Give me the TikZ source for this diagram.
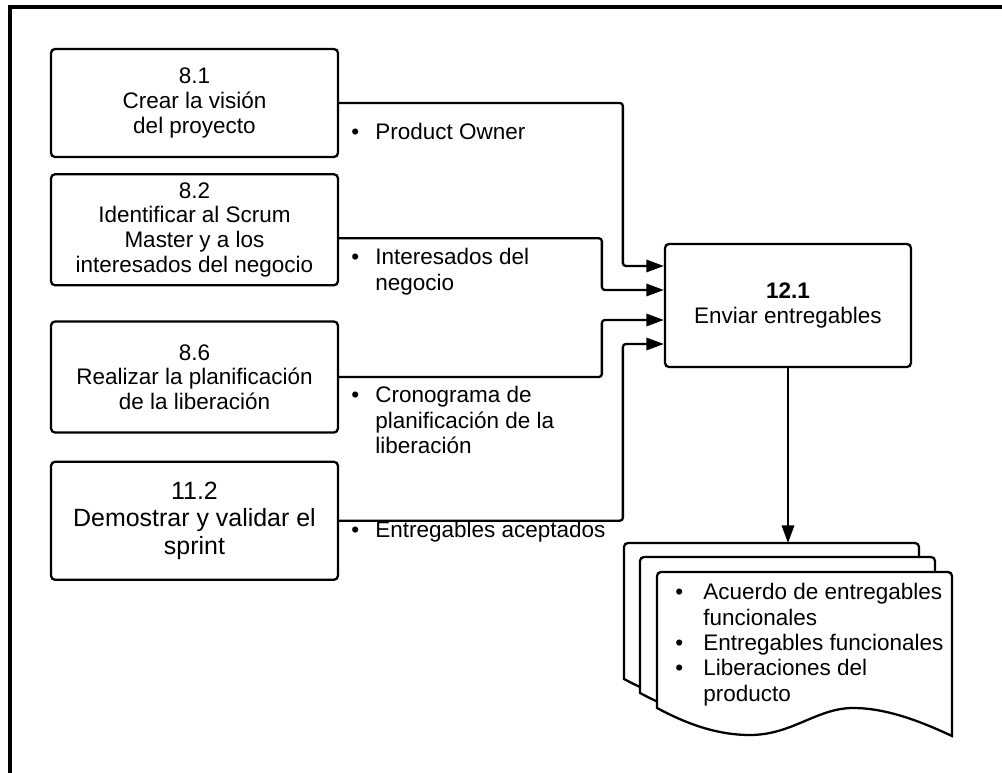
\documentclass[tikz,border=0pt]{standalone}
\usepackage{fontspec}
\setmainfont{Liberation Sans}
\usetikzlibrary{arrows.meta}
\usetikzlibrary{positioning}
\usetikzlibrary{calc}

% one page of the output stack, top left corner at #1
\newcommand{\docpage}[1]{%
  \filldraw[draw=black, fill=white, line width=1.3pt, shift={(#1)}] (0,136) [rounded corners=0.08cm] -- (0,0) -- (295,0) [sharp corners] -- (295,164) .. controls (265,150) and (230,136) .. (196,136) .. controls (160,136) and (135,163) .. (93,163) .. controls (60,163) and (30,152) .. cycle;}

\begin{document}
\begin{tikzpicture}[x=0.02cm, y=-0.02cm, process/.style={rectangle, draw, line width=1.3pt, rounded corners=0.08cm, align=center, minimum width=5.74cm, font=\fontsize{12.8}{14}\selectfont}, note/.style={anchor=base west, inner sep=0pt, align=left, font=\fontsize{12.8}{14.4}\selectfont}, flow/.style={line width=1.3pt, rounded corners=0.06cm, -{Triangle[length=10pt,width=7pt]}}]

\useasboundingbox (0,0) rectangle (1002,773);
\draw[line width=2pt] (10,773) -- (10,7) -- (1002,7);

\node[process, minimum height=2.16cm] (vision) at (194.5,103) {8.1\\Crear la visión\\del proyecto};
\node[process, minimum height=2.22cm, below=0.3cm of vision] (stakeholders) {8.2\\Identificar al Scrum\\Master y a los\\interesados del negocio};
\node[process, minimum height=2.22cm, below=0.68cm of stakeholders] (release) {8.6\\Realizar la planificación\\de la liberación};
\node[process, minimum height=2.36cm, below=0.54cm of release, font=\fontsize{14.2}{15.5}\selectfont] (demo) {11.2\\Demostrar y validar el\\sprint};
\node[process, minimum width=4.92cm, minimum height=2.46cm] (deliver) at (788,305.5) {\textbf{12.1}\\Enviar entregables};

\node[note] (lblowner) at (351,140) {\begin{tabular}[t]{@{}p{0.48cm}@{}l@{}}\textbullet & Product Owner\end{tabular}};
\node[note] (lblstake) at (351,265) {\begin{tabular}[t]{@{}p{0.48cm}@{}l@{}}\textbullet & Interesados del\\ & negocio\end{tabular}};
\node[note] (lblsched) at (351,403) {\begin{tabular}[t]{@{}p{0.48cm}@{}l@{}}\textbullet & Cronograma de\\ & planificación de la\\ & liberación\end{tabular}};
\node[note] (lblaccepted) at (351,538) {\begin{tabular}[t]{@{}p{0.48cm}@{}l@{}}\textbullet & Entregables aceptados\end{tabular}};

\draw[flow] (vision.east) -| ($(deliver.west)+(-41,-39.5)$) -- ($(deliver.west)+(0,-39.5)$);
\draw[flow] ($(stakeholders.east)+(0,8.5)$) -| ($(deliver.west)+(-62,-15.5)$) -- ($(deliver.west)+(0,-15.5)$);
\draw[flow] (release.east) -| ($(deliver.west)+(-62,14.5)$) -- ($(deliver.west)+(0,14.5)$);
\draw[flow] (demo.east) -| ($(deliver.west)+(-41,38.5)$) -- ($(deliver.west)+(0,38.5)$);

% output stack
\coordinate (doc3) at (624,543);
\coordinate (doc2) at (640,557);
\coordinate (doc1) at (657,572);
\docpage{doc3}
\docpage{doc2}
\docpage{doc1}
\draw[flow] (deliver.south) -- (deliver.south |- doc3);

\node[note] (outputs) at (675,600) {\begin{tabular}[t]{@{}p{0.56cm}@{}l@{}}\textbullet & Acuerdo de entregables\\ & funcionales\\ \textbullet & Entregables funcionales\\ \textbullet & Liberaciones del\\ & producto\end{tabular}};

\end{tikzpicture}
\end{document}
